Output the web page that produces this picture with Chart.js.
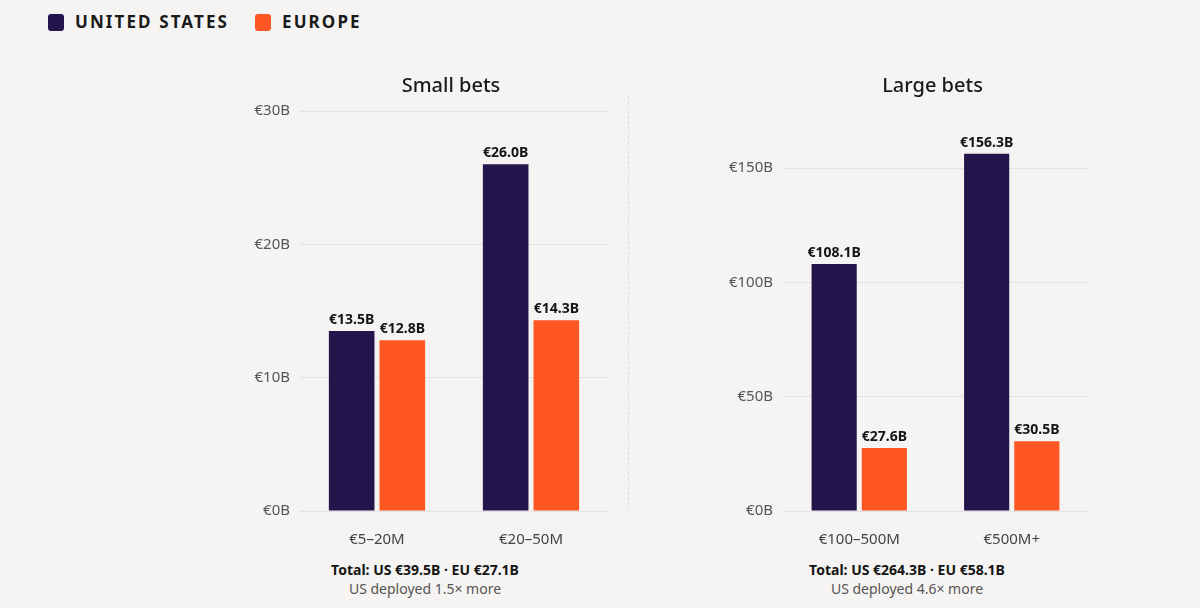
<!DOCTYPE html>
<html><head><meta charset="utf-8">
<script src="https://cdn.jsdelivr.net/npm/chart.js@4"></script>
<style>
html,body{margin:0;padding:0;background:#f5f4f2;width:1200px;height:608px;overflow:hidden;font-family:"Noto Sans",sans-serif;}
#legend{position:absolute;left:48px;top:13px;height:18px;display:flex;align-items:center;}
.item{display:flex;align-items:center;margin-right:26px;}
.sw{width:16px;height:17px;border-radius:3px;margin-right:11px;}
.lt{font-weight:700;font-size:17px;letter-spacing:2.1px;color:#1a1a1a;line-height:18px;}
canvas{position:absolute;}
.foot{position:absolute;width:320px;text-align:center;line-height:19px;top:560px;}
.f1{font-weight:700;font-size:14px;color:#141414;}
.f2{font-size:14px;color:#555;}
#divider{position:absolute;left:628px;top:96px;height:414px;border-left:1px dashed #dcdcdc;}
</style>
</head><body>
<div id="legend"></div>
<canvas id="c1" width="440" height="500" style="left:230px;top:60px;"></canvas>
<div id="divider"></div>
<canvas id="c2" width="442" height="500" style="left:712px;top:60px;"></canvas>
<div class="foot" id="foot1" style="left:265px;"></div>
<div class="foot" id="foot2" style="left:747px;"></div>
<script>
const seriesNames = ['UNITED STATES', 'EUROPE'];
const seriesColors = ['#22154b', '#ff5724'];

const smallTitle = 'Small bets';
const smallCategories = ['€5–20M', '€20–50M'];
const smallUS = [13.5, 26.0];
const smallEU = [12.8, 14.3];
const smallTicks = [0, 10, 20, 30];
const smallMax = 30;
const smallFooter = ['Total: US €39.5B · EU €27.1B', 'US deployed 1.5× more'];

const largeTitle = 'Large bets';
const largeCategories = ['€100–500M', '€500M+'];
const largeUS = [108.1, 156.3];
const largeEU = [27.6, 30.5];
const largeTicks = [0, 50, 100, 150];
const largeMax = 175;
const largeFooter = ['Total: US €264.3B · EU €58.1B', 'US deployed 4.6× more'];

// legend
const lg = document.getElementById('legend');
seriesNames.forEach((n, i) => {
  const it = document.createElement('div'); it.className = 'item';
  const sw = document.createElement('div'); sw.className = 'sw'; sw.style.background = seriesColors[i];
  const t = document.createElement('span'); t.className = 'lt'; t.textContent = n;
  it.appendChild(sw); it.appendChild(t); lg.appendChild(it);
});
function setFooter(id, lines) {
  const el = document.getElementById(id);
  el.innerHTML = '';
  const a = document.createElement('div'); a.className = 'f1'; a.textContent = lines[0];
  const b = document.createElement('div'); b.className = 'f2'; b.textContent = lines[1];
  el.appendChild(a); el.appendChild(b);
}
setFooter('foot1', smallFooter);
setFooter('foot2', largeFooter);

const valueLabels = {
  id: 'valueLabels',
  afterDatasetsDraw(chart) {
    const ctx = chart.ctx;
    ctx.save();
    ctx.font = '700 14px "Noto Sans", sans-serif';
    ctx.fillStyle = '#141414';
    ctx.textAlign = 'center';
    ctx.textBaseline = 'alphabetic';
    chart.data.datasets.forEach((ds, i) => {
      chart.getDatasetMeta(i).data.forEach((bar, j) => {
        ctx.fillText('€' + ds.data[j].toFixed(1) + 'B', bar.x, bar.y - 7);
      });
    });
    ctx.restore();
  }
};

const panelTitle = {
  id: 'panelTitle',
  afterDraw(chart, args, opts) {
    const ctx = chart.ctx;
    const a = chart.chartArea;
    ctx.save();
    ctx.font = '500 20px "Noto Sans", sans-serif';
    ctx.fillStyle = '#1a1a1a';
    ctx.textAlign = 'center';
    ctx.textBaseline = 'middle';
    ctx.fillText(opts.text, (a.left + a.right) / 2 - 3, a.top - 25);
    ctx.restore();
  }
};

function makeChart(id, title, cats, us, eu, ticks, max, yWidth, padRight) {
  return new Chart(document.getElementById(id), {
    type: 'bar',
    data: {
      labels: cats,
      datasets: [
        { label: seriesNames[0], data: us, backgroundColor: seriesColors[0], barPercentage: 0.9, categoryPercentage: 0.658 },
        { label: seriesNames[1], data: eu, backgroundColor: seriesColors[1], barPercentage: 0.9, categoryPercentage: 0.658 }
      ]
    },
    options: {
      responsive: false,
      animation: false,
      layout: { padding: { right: padRight, bottom: 9, left: 0, top: 51 } },
      plugins: {
        legend: { display: false },
        tooltip: { enabled: false },
        title: { display: false },
        panelTitle: { text: title }
      },
      scales: {
        x: {
          grid: { display: false },
          border: { display: false },
          ticks: { color: '#444', font: { family: '"Noto Sans", sans-serif', size: 15 }, padding: 12 },
          afterFit: s => { s.height = 40; }
        },
        y: {
          min: 0, max: max,
          grid: { color: '#e3e2e0', drawTicks: false, lineWidth: 1 },
          border: { display: false },
          ticks: {
            color: '#555', padding: 10,
            font: { family: '"Noto Sans", sans-serif', size: 15 },
            callback: v => '€' + v + 'B'
          },
          afterBuildTicks: s => { s.ticks = ticks.map(v => ({ value: v })); },
          afterFit: s => { s.width = yWidth; }
        }
      }
    },
    plugins: [valueLabels, panelTitle]
  });
}
makeChart('c1', smallTitle, smallCategories, smallUS, smallEU, smallTicks, smallMax, 70, 62);
makeChart('c2', largeTitle, largeCategories, largeUS, largeEU, largeTicks, largeMax, 71, 66);
</script>
</body></html>
